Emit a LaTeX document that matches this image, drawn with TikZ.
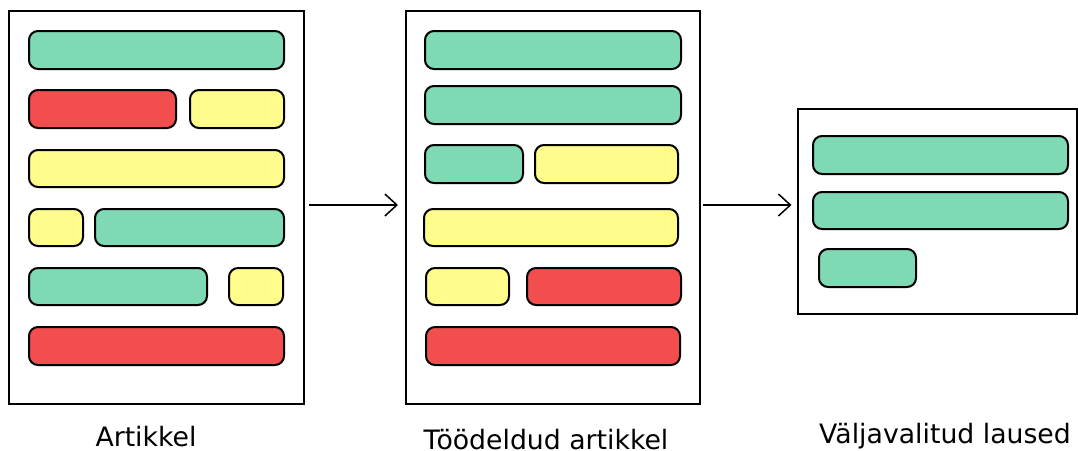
\documentclass[tikz,border=0pt]{standalone}
\usepackage{fontspec}
\setmainfont{DejaVu Sans}
\usetikzlibrary{arrows.meta}
\definecolor{cgreen}{RGB}{127,217,181}
\definecolor{cred}{RGB}{243,78,78}
\definecolor{cyellow}{RGB}{255,252,140}
\begin{document}
\begin{tikzpicture}[x=1pt,y=-1pt,
  frame/.style={draw, line width=2pt, inner sep=0pt, outer sep=0pt, fill=white},
  sbar/.style={draw, line width=2pt, rounded corners=9pt, inner sep=0pt, outer sep=0pt, minimum height=38pt},
  gbar/.style={sbar, fill=cgreen},
  rbar/.style={sbar, fill=cred},
  ybar/.style={sbar, fill=cyellow},
  arr/.style={line width=1.5pt, -{Straight Barb[length=12pt,width=22pt,line width=1.5pt]}},
  lbl/.style={anchor=base, inner sep=0pt, font=\fontsize{26.7pt}{32pt}\selectfont}
]
\useasboundingbox (0,0) rectangle (1078,450);
% frames (outer edges measured, line centred 1pt inside)
\node[frame, minimum width=295pt, minimum height=393pt] (f1) at (156.5,207.5) {};
\node[frame, minimum width=294pt, minimum height=393pt] (f2) at (553,207.5) {};
\node[frame, minimum width=279pt, minimum height=205pt] (f3) at (937,211.5) {};
% article 1
\node[gbar, minimum width=255pt] (a11) at (156.5,50) {};
\node[rbar, minimum width=147pt] (a21) at (102.5,109) {};
\node[ybar, minimum width=94pt] (a22) at (237,109) {};
\node[ybar, minimum width=255pt, minimum height=37pt] (a31) at (156.5,168.5) {};
\node[ybar, minimum width=54pt, minimum height=37pt] (a41) at (56,227.5) {};
\node[gbar, minimum width=189pt, minimum height=37pt] (a42) at (189.5,227.5) {};
\node[gbar, minimum width=178pt, minimum height=37pt] (a51) at (118,286.5) {};
\node[ybar, minimum width=54pt, minimum height=37pt] (a52) at (256,286.5) {};
\node[rbar, minimum width=255pt] (a61) at (156.5,346) {};
% article 2
\node[gbar, minimum width=256pt] (b11) at (553,50) {};
\node[gbar, minimum width=256pt] (b21) at (553,105) {};
\node[gbar, minimum width=98pt] (b31) at (474,164) {};
\node[ybar, minimum width=143pt] (b32) at (606.5,164) {};
\node[ybar, minimum width=254pt, minimum height=37pt] (b41) at (551,227.5) {};
\node[ybar, minimum width=83pt, minimum height=37pt] (b51) at (467.5,286.5) {};
\node[rbar, minimum width=154pt, minimum height=37pt] (b52) at (604,286.5) {};
\node[rbar, minimum width=254pt] (b61) at (553,346) {};
% selected
\node[gbar, minimum width=255pt] (c11) at (940.5,155) {};
\node[gbar, minimum width=255pt, minimum height=37pt] (c21) at (940.5,210.5) {};
\node[gbar, minimum width=97pt] (c31) at (867.5,268) {};
% arrows
\draw[arr, shorten <=5pt, shorten >=8pt] ([yshift=2.5pt]f1.east) -- ([yshift=2.5pt]f1.east -| f2.west);
\draw[arr, shorten <=3pt, shorten >=6pt] ([yshift=2.5pt]f2.east) -- ([yshift=2.5pt]f2.east -| f3.west);
% labels
\node[lbl] (l1) at (146,446) {Artikkel};
\node[lbl] (l2) at (546,449.5) {Töödeldud artikkel};
\node[lbl] (l3) at (945,443) {Väljavalitud laused};
\end{tikzpicture}
\end{document}
